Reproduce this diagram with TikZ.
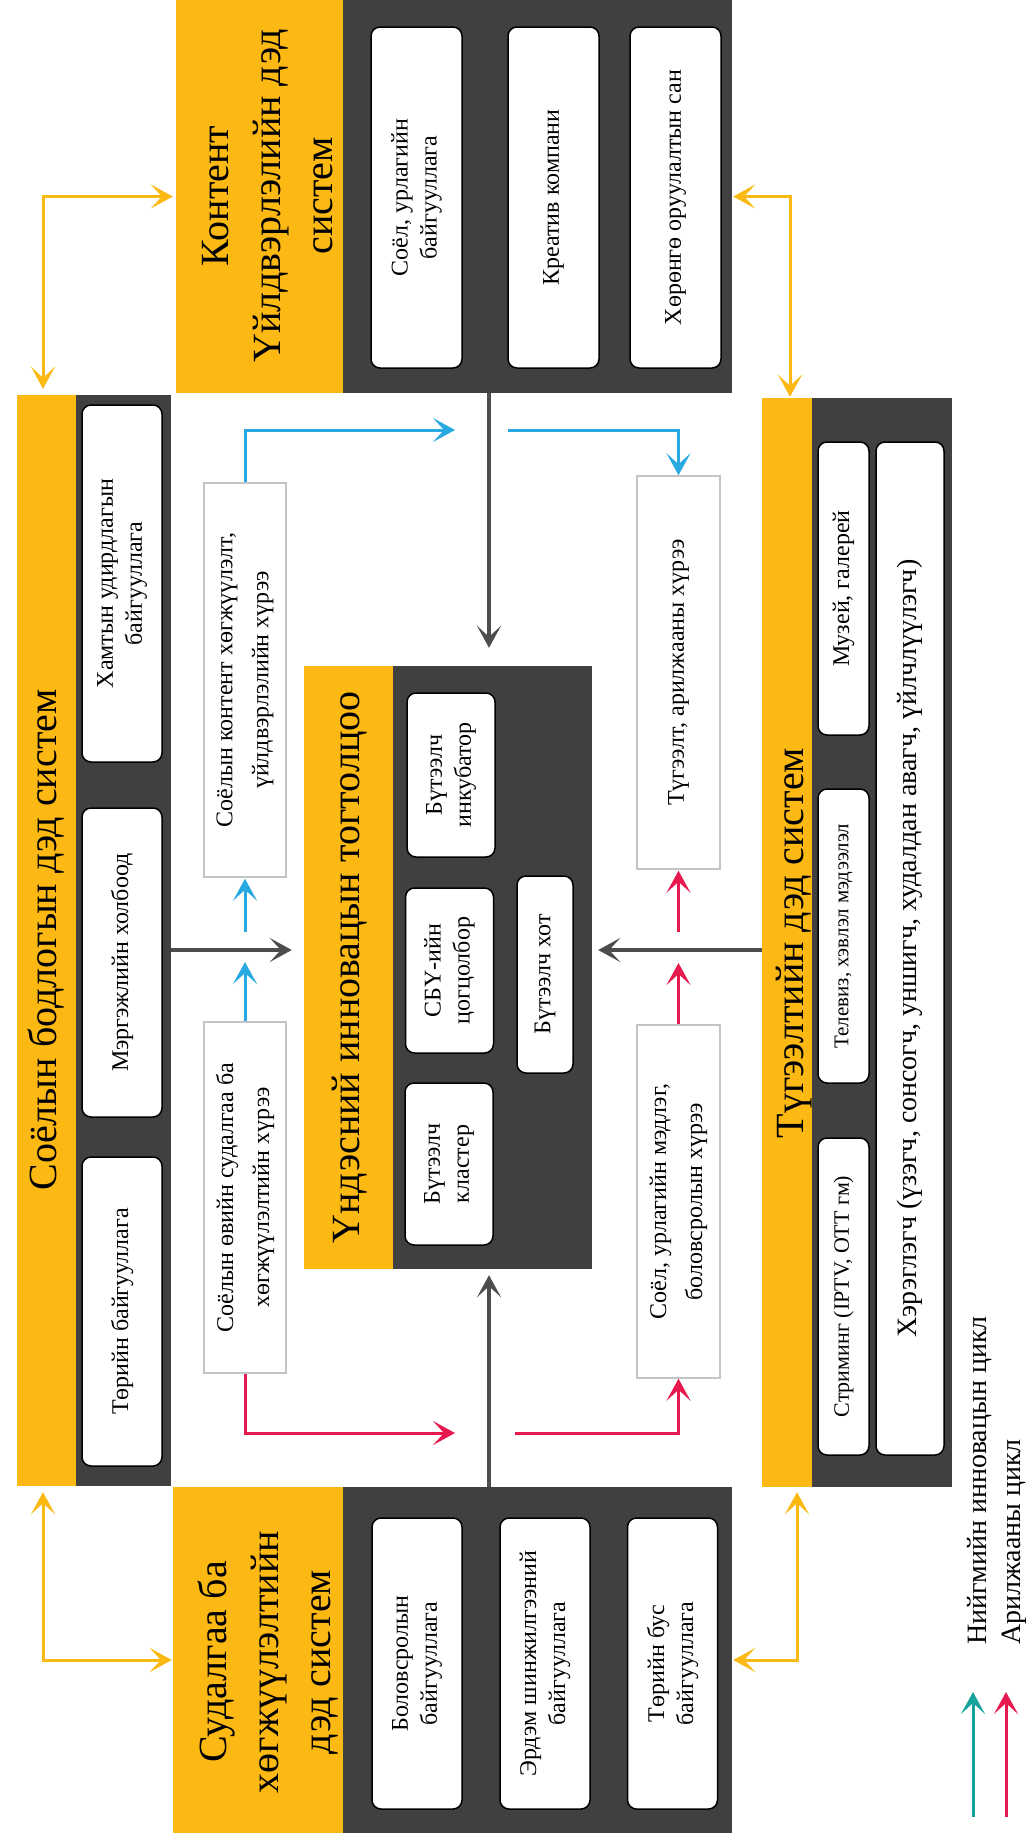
\documentclass[tikz,border=0pt]{standalone}
\usepackage{fontspec}
\setmainfont{Liberation Serif}
\usetikzlibrary{arrows.meta}

\definecolor{syellow}{HTML}{FCB813}
\definecolor{sdark}{HTML}{404040}
\definecolor{sblue}{HTML}{29A9E1}
\definecolor{sred}{HTML}{E8194F}
\definecolor{steal}{HTML}{17A39B}
\definecolor{sgrey}{HTML}{4D4D4D}
\definecolor{zgrey}{HTML}{C4C4C4}

\tikzset{
  strip/.style={fill=syellow, rotate=90, inner sep=0pt},
  panel/.style={fill=sdark, rotate=90, inner sep=0pt},
  title/.style={rotate=90, align=center, inner sep=0pt, font=\fontsize{40}{52}\selectfont},
  unit/.style={draw=black, line width=1.5pt, fill=white, rounded corners=9pt, rotate=90,
    inner sep=0pt, align=center, font=\fontsize{24}{29}\selectfont},
  zone/.style={draw=zgrey, line width=1.5pt, fill=white, rotate=90, inner sep=0pt,
    align=center, font=\fontsize{24}{36}\selectfont},
  legend/.style={rotate=90, inner sep=0pt, font=\fontsize{28}{34}\selectfont},
  flow/.style={line width=3pt, -{Stealth[length=22pt,width=24pt,inset=11pt]}},
  swap/.style={line width=3pt, color=syellow,
    {Stealth[length=22pt,width=24pt,inset=11pt]}-{Stealth[length=22pt,width=24pt,inset=11pt]}},
  main/.style={flow, line width=4pt, color=sgrey}
}

\begin{document}
\begin{tikzpicture}[x=1pt,y=-1pt]
\useasboundingbox (0,0) rectangle (1026,1839);

% content
\node[strip, minimum width=393pt, minimum height=167pt] (ahead) at (259.5,196.5) {};
\node[panel, minimum width=393pt, minimum height=389pt] (apanel) at (537.5,196.5) {};
\node[title] (atitle) at (268,196) {Контент\\Үйлдвэрлэлийн дэд\\систем};
\node[unit, minimum width=341pt, minimum height=91pt] (a1) at (416.5,197.5) {Соёл, урлагийн\\байгууллага};
\node[unit, minimum width=341pt, minimum height=91pt] (a2) at (553.5,197.5) {Креатив компани};
\node[unit, minimum width=341pt, minimum height=91pt] (a3) at (675.5,197.5) {Хөрөнгө оруулалтын сан};

% policy
\node[strip, minimum width=1091pt, minimum height=59pt] (bhead) at (46.5,940.5) {};
\node[panel, minimum width=1091pt, minimum height=95pt] (bpanel) at (123.5,940.5) {};
\node[title] (btitle) at (46,940) {Соёлын бодлогын дэд систем};
\node[unit, minimum width=357pt, minimum height=80pt] (b1) at (122,583.5) {Хамтын удирдлагын\\байгууллага};
\node[unit, minimum width=309pt, minimum height=80pt] (b2) at (122,962.5) {Мэргэжлийн холбоод};
\node[unit, minimum width=309pt, minimum height=80pt] (b3) at (122,1311.5) {Төрийн байгууллага};

% research
\node[strip, minimum width=346pt, minimum height=170pt] (chead) at (258,1660) {};
\node[panel, minimum width=346pt, minimum height=389pt] (cpanel) at (537.5,1660) {};
\node[title] (ctitle) at (268,1662) {Судалгаа ба\\хөгжүүлэлтийн\\дэд систем};
\node[unit, minimum width=291pt, minimum height=90pt] (c1) at (417,1663.5) {Боловсролын\\байгууллага};
\node[unit, minimum width=291pt, minimum height=90pt] (c2) at (545,1663.5) {Эрдэм шинжилгээний\\байгууллага};
\node[unit, minimum width=291pt, minimum height=90pt] (c3) at (672.5,1663.5) {Төрийн бус\\байгууллага};

% distribution
\node[strip, minimum width=1089pt, minimum height=50pt] (dhead) at (787,942.5) {};
\node[panel, minimum width=1089pt, minimum height=140pt] (dpanel) at (882,942.5) {};
\node[title] (dtitle) at (794,943) {Түгээлтийн дэд систем};
\node[unit, minimum width=293pt, minimum height=51pt] (d1) at (843.5,588.5) {Музей, галерей};
\node[unit, minimum width=294pt, minimum height=51pt, font=\fontsize{21}{25}\selectfont] (d2) at (843.5,936) {Телевиз, хэвлэл мэдээлэл};
\node[unit, minimum width=317pt, minimum height=51pt, font=\fontsize{22}{26}\selectfont] (d3) at (843.5,1296.5) {Стриминг (IPTV, OTT гм)};
\node[unit, minimum width=1013pt, minimum height=68pt, font=\fontsize{28}{34}\selectfont] (d4) at (910,948.5) {Хэрэглэгч (үзэгч, сонсогч, уншигч, худалдан авагч, үйлчлүүлэгч)};

% national system
\node[strip, minimum width=603pt, minimum height=89pt] (ehead) at (348.5,967.5) {};
\node[panel, minimum width=603pt, minimum height=199pt] (epanel) at (492.5,967.5) {};
\node[title] (etitle) at (350,967.5) {Үндэсний инновацын тогтолцоо};
\node[unit, minimum width=164pt, minimum height=88pt] (e1) at (451,775) {Бүтээлч\\инкубатор};
\node[unit, minimum width=165pt, minimum height=88pt] (e2) at (449.5,970.5) {СБҮ-ийн\\цогцолбор};
\node[unit, minimum width=162pt, minimum height=88pt] (e3) at (449,1164) {Бүтээлч\\кластер};
\node[unit, minimum width=197pt, minimum height=56pt] (e4) at (545,974.5) {Бүтээлч хот};

% zones
\node[zone, minimum width=394pt, minimum height=82pt] (f1) at (245,680) {Соёлын контент хөгжүүлэлт,\\үйлдвэрлэлийн хүрээ};
\node[zone, minimum width=351pt, minimum height=82pt] (f2) at (245,1197.5) {Соёлын өвийн судалгаа ба\\хөгжүүлэлтийн хүрээ};
\node[zone, minimum width=393pt, minimum height=83pt] (f3) at (678.5,672.5) {Түгээлт, арилжааны хүрээ};
\node[zone, minimum width=353pt, minimum height=83pt] (f4) at (678.5,1201.5) {Соёл, урлагийн мэдлэг,\\боловсролын хүрээ};

\coordinate (hub) at (489,950);
\coordinate (upper) at (489,430);
\coordinate (lower) at (489,1433);

\draw[main, shorten >=18pt] (apanel.west -| hub) -- (epanel.east -| hub);
\draw[main, shorten >=12pt] (bpanel.south |- hub) -- (ehead.north |- hub);
\draw[main, shorten >=6pt] (cpanel.east -| hub) -- (epanel.west -| hub);
\draw[main, shorten >=6pt] (dhead.north |- hub) -- (epanel.south |- hub);

\draw[flow, sblue, shorten >=12pt] (f2.east) -- (f2.east |- hub);
\draw[flow, sblue, shorten <=18pt, shorten >=1pt] (f1.west |- hub) -- (f1.west);
\draw[flow, sblue, shorten >=34pt] (f1.east) |- (upper);
\draw[flow, sblue, shorten <=19pt] (upper) -| (f3.east);

\draw[flow, sred, shorten >=34pt] (f2.west) |- (lower);
\draw[flow, sred, shorten <=26pt] (lower) -| (f4.west);
\draw[flow, sred, shorten >=13pt] (f4.east) -- (f4.east |- hub);
\draw[flow, sred, shorten <=18pt, shorten >=1pt] (f3.west |- hub) -- (f3.west);

\draw[swap, shorten <=3pt, shorten >=6pt] (ahead.north) -| ([xshift=-3.5pt]bhead.east);
\draw[swap, shorten <=1pt, shorten >=1pt] (apanel.south) -| ([xshift=3pt]dhead.east);
\draw[swap, shorten <=6pt, shorten >=1pt] ([xshift=-3.5pt]bhead.west) |- (chead.north);
\draw[swap, shorten <=5pt, shorten >=1pt] ([xshift=10pt]dhead.west) |- (cpanel.south);

% legend
\coordinate (t0) at (973,1817);
\coordinate (t1) at (973,1692);
\coordinate (r0) at (1006,1817);
\coordinate (r1) at (1006,1692);
\draw[flow, steal] (t0) -- (t1);
\draw[flow, sred] (r0) -- (r1);
\node[legend, anchor=west] (leg1) at (980,1645) {Нийгмийн инновацын цикл};
\node[legend, anchor=west] (leg2) at (1014,1645) {Арилжааны цикл};
\end{tikzpicture}
\end{document}
